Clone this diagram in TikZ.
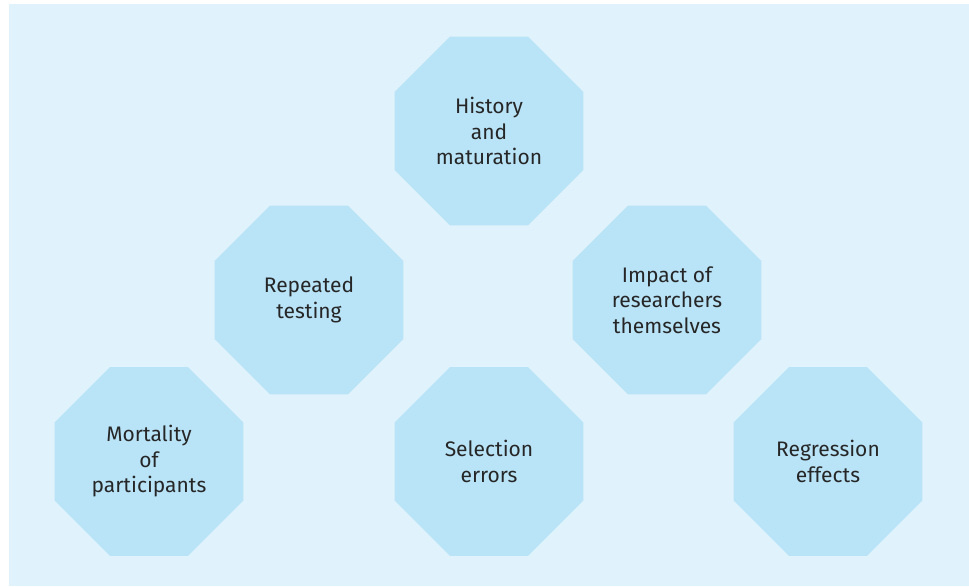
\documentclass[tikz,border=0pt]{standalone}
\usepackage{fontspec}
\setmainfont{Fira Sans}
\usepackage{xcolor}
\usetikzlibrary{shapes.geometric}
\definecolor{bgblue}{RGB}{224,242,251}
\definecolor{octblue}{RGB}{185,228,248}
\definecolor{inkgray}{RGB}{38,38,38}

\begin{document}
\begin{tikzpicture}[x=0.5pt, y=-0.5pt,
    octa/.style={regular polygon, regular polygon sides=8, minimum size=102.1pt,
        inner sep=0pt, fill=octblue, text=inkgray, align=center,
        font=\fontsize{10.5}{12.75}\selectfont}]
    % Canvas and background panel
    \useasboundingbox (0,0) rectangle (969,586);
    \fill[bgblue] (9,4) rectangle (969,586);

    % Top row
    \node[octa] (history) at (489,131) {History\\and\\maturation};

    % Middle row
    \node[octa] (repeated) at (309,300) {Repeated\\testing};
    \node[octa] (impact) at (667,300) {Impact of\\researchers\\themselves};

    % Bottom row
    \node[octa] (mortality) at (149,461.5) {Mortality\\of\\participants};
    \node[octa] (selection) at (489,461.5) {Selection\\errors};
    \node[octa] (regression) at (828,461.5) {Regression\\effects};
\end{tikzpicture}
\end{document}
